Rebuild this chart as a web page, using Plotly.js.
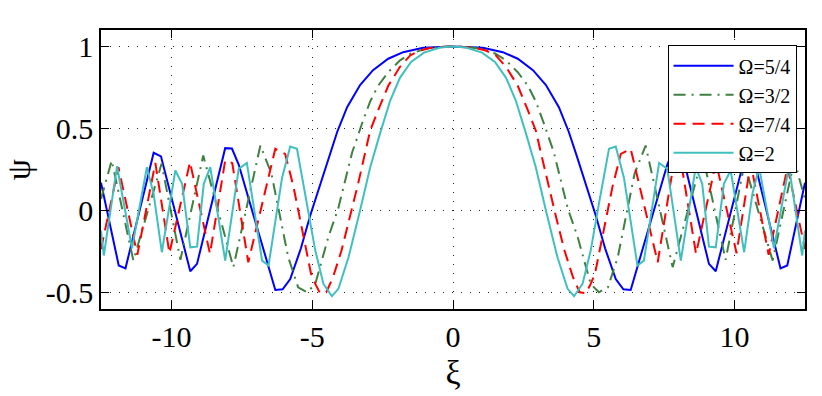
<!DOCTYPE html>
<html>
<head>
<meta charset="utf-8">
<script src="https://cdn.plot.ly/plotly-3.0.1.min.js"></script>
<style>
  html, body { margin: 0; padding: 0; background: #fff; }
  #chart { width: 822px; height: 396px; }
</style>
</head>
<body>
<div id="chart"></div>
<script>
// values, left half only (xi <= 0); the curves are even in xi
const xi54 = [-12.5, -11.87, -11.63, -10.63, -10.37, -9.33, -9.09, -8.09, -7.85, -7.61, -6.31, -6.05, -5.78, -5.40, -5.07, -4.72, -4.40, -4.11, -3.76, -3.30, -2.84, -2.30, -1.77, -1.06, 0];
const psi54 = [0.17, -0.335, -0.352, 0.352, 0.33, -0.37, -0.325, 0.38, 0.378, 0.28, -0.484, -0.48, -0.417, -0.23, -0.03, 0.16, 0.33, 0.48, 0.63, 0.765, 0.855, 0.925, 0.965, 0.992, 1.0];

const xi32 = [-12.5, -12.12, -11.35, -10.35, -9.68, -8.87, -7.80, -6.84, -6.45, -5.85, -5.50, -5.18, -4.89, -4.43, -4.08, -3.83, -3.58, -3.23, -2.94, -2.66, -2.30, -1.88, -1.49, -0.99, -0.46, 0];
const psi32 = [0.07, 0.305, -0.305, 0.285, -0.30, 0.335, -0.345, 0.396, 0.226, -0.285, -0.468, -0.498, -0.447, -0.163, 0.01, 0.183, 0.355, 0.53, 0.665, 0.76, 0.843, 0.915, 0.957, 0.985, 0.998, 1.0];

const xi74 = [-12.5, -11.88, -11.21, -10.57, -10.07, -9.34, -8.63, -8.09, -7.84, -7.27, -6.31, -5.96, -5.67, -5.04, -4.89, -4.72, -4.50, -4.26, -3.96, -3.66, -3.37, -3.13, -2.94, -2.66, -2.30, -1.89, -1.52, -1.17, -0.82, 0];
const psi74 = [-0.234, 0.264, -0.27, 0.29, -0.26, 0.295, -0.264, 0.305, 0.29, -0.315, 0.376, 0.345, 0.15, -0.386, -0.447, -0.504, -0.498, -0.406, -0.244, -0.04, 0.163, 0.345, 0.488, 0.61, 0.76, 0.874, 0.945, 0.975, 0.99, 1.0];

const xi2 = [-12.5, -12.40, -11.93, -11.40, -10.87, -10.63, -10.34, -9.86, -9.62, -9.33, -9.09, -8.85, -8.62, -8.09, -7.61, -7.32, -6.78, -6.55, -6.07, -5.78, -5.54, -5.19, -4.89, -4.60, -4.30, -4.07, -3.71, -3.30, -2.94, -2.59, -2.23, -1.88, -1.49, -1.03, -0.46, 0];
const psi2 = [-0.122, -0.274, 0.27, -0.23, 0.264, 0.1, -0.254, 0.244, 0.163, -0.224, -0.22, 0.163, 0.264, -0.305, 0.254, 0.29, -0.305, -0.335, 0.2, 0.39, 0.376, 0.05, -0.244, -0.447, -0.522, -0.477, -0.285, 0.0, 0.264, 0.47, 0.67, 0.81, 0.905, 0.962, 0.993, 1.0];

const seriesNames = ["Ω=5/4", "Ω=3/2", "Ω=7/4", "Ω=2"];

const xTicks = [-10, -5, 0, 5, 10];
const xTickText = ["-10", "-5", "0", "5", "10"];
const yTicks = [-0.5, 0, 0.5, 1];
const yTickText = ["-0.5", "0", "0.5", "1"];

const SERIF = "Liberation Serif";

// fill in the right half by reflecting the left half about xi = 0
function wholeCurve(xs, ys) {
  const x = xs.concat(xs.slice(0, -1).reverse().map((v) => -v));
  const y = ys.concat(ys.slice(0, -1).reverse());
  return { x, y };
}

const styles = [
  { color: "#0000ff", dash: "solid" },
  { color: "#408040", dash: "12px,6px,2px,6px" },
  { color: "#ff0000", dash: "12px,7px" },
  { color: "#40bfbf", dash: "solid" },
];

const halves = [
  [xi54, psi54],
  [xi32, psi32],
  [xi74, psi74],
  [xi2, psi2],
];

const traces = halves.map(([xs, ys], i) => {
  const c = wholeCurve(xs, ys);
  return {
    x: c.x,
    y: c.y,
    type: "scatter",
    mode: "lines",
    name: seriesNames[i],
    line: { color: styles[i].color, dash: styles[i].dash, width: 2 },
  };
});

const axisCommon = {
  ticks: "inside",
  ticklen: 8,
  tickwidth: 1,
  tickcolor: "black",
  showline: true,
  linecolor: "black",
  linewidth: 1.5,
  mirror: "ticks",
  showgrid: true,
  gridcolor: "#222",
  gridwidth: 1,
  griddash: "1px,8px",
  zeroline: false,
  tickfont: { family: SERIF, size: 30, color: "black" },
};

const layout = {
  width: 822,
  height: 396,
  margin: { l: 101, r: 17, t: 30, b: 87 },
  paper_bgcolor: "white",
  plot_bgcolor: "white",
  font: { family: SERIF, color: "black", size: 26 },
  xaxis: Object.assign({}, axisCommon, {
    range: [-12.5, 12.5],
    tickmode: "array",
    tickvals: xTicks,
    ticktext: xTickText,
    title: { text: "ξ", font: { family: SERIF, size: 34, color: "black" }, standoff: 8 },
  }),
  yaxis: Object.assign({}, axisCommon, {
    range: [-0.6, 1.1],
    tickmode: "array",
    tickvals: yTicks,
    ticktext: yTickText,
    title: { text: "ψ", font: { family: SERIF, size: 34, color: "black" }, standoff: 14 },
  }),
  showlegend: true,
  legend: {
    x: 0.988,
    y: 0.945,
    xanchor: "right",
    yanchor: "top",
    bgcolor: "white",
    bordercolor: "black",
    borderwidth: 1,
    font: { family: SERIF, size: 20, color: "black" },
    itemwidth: 60,
  },
};

Plotly.newPlot("chart", traces, layout, { displayModeBar: false });
</script>
</body>
</html>
